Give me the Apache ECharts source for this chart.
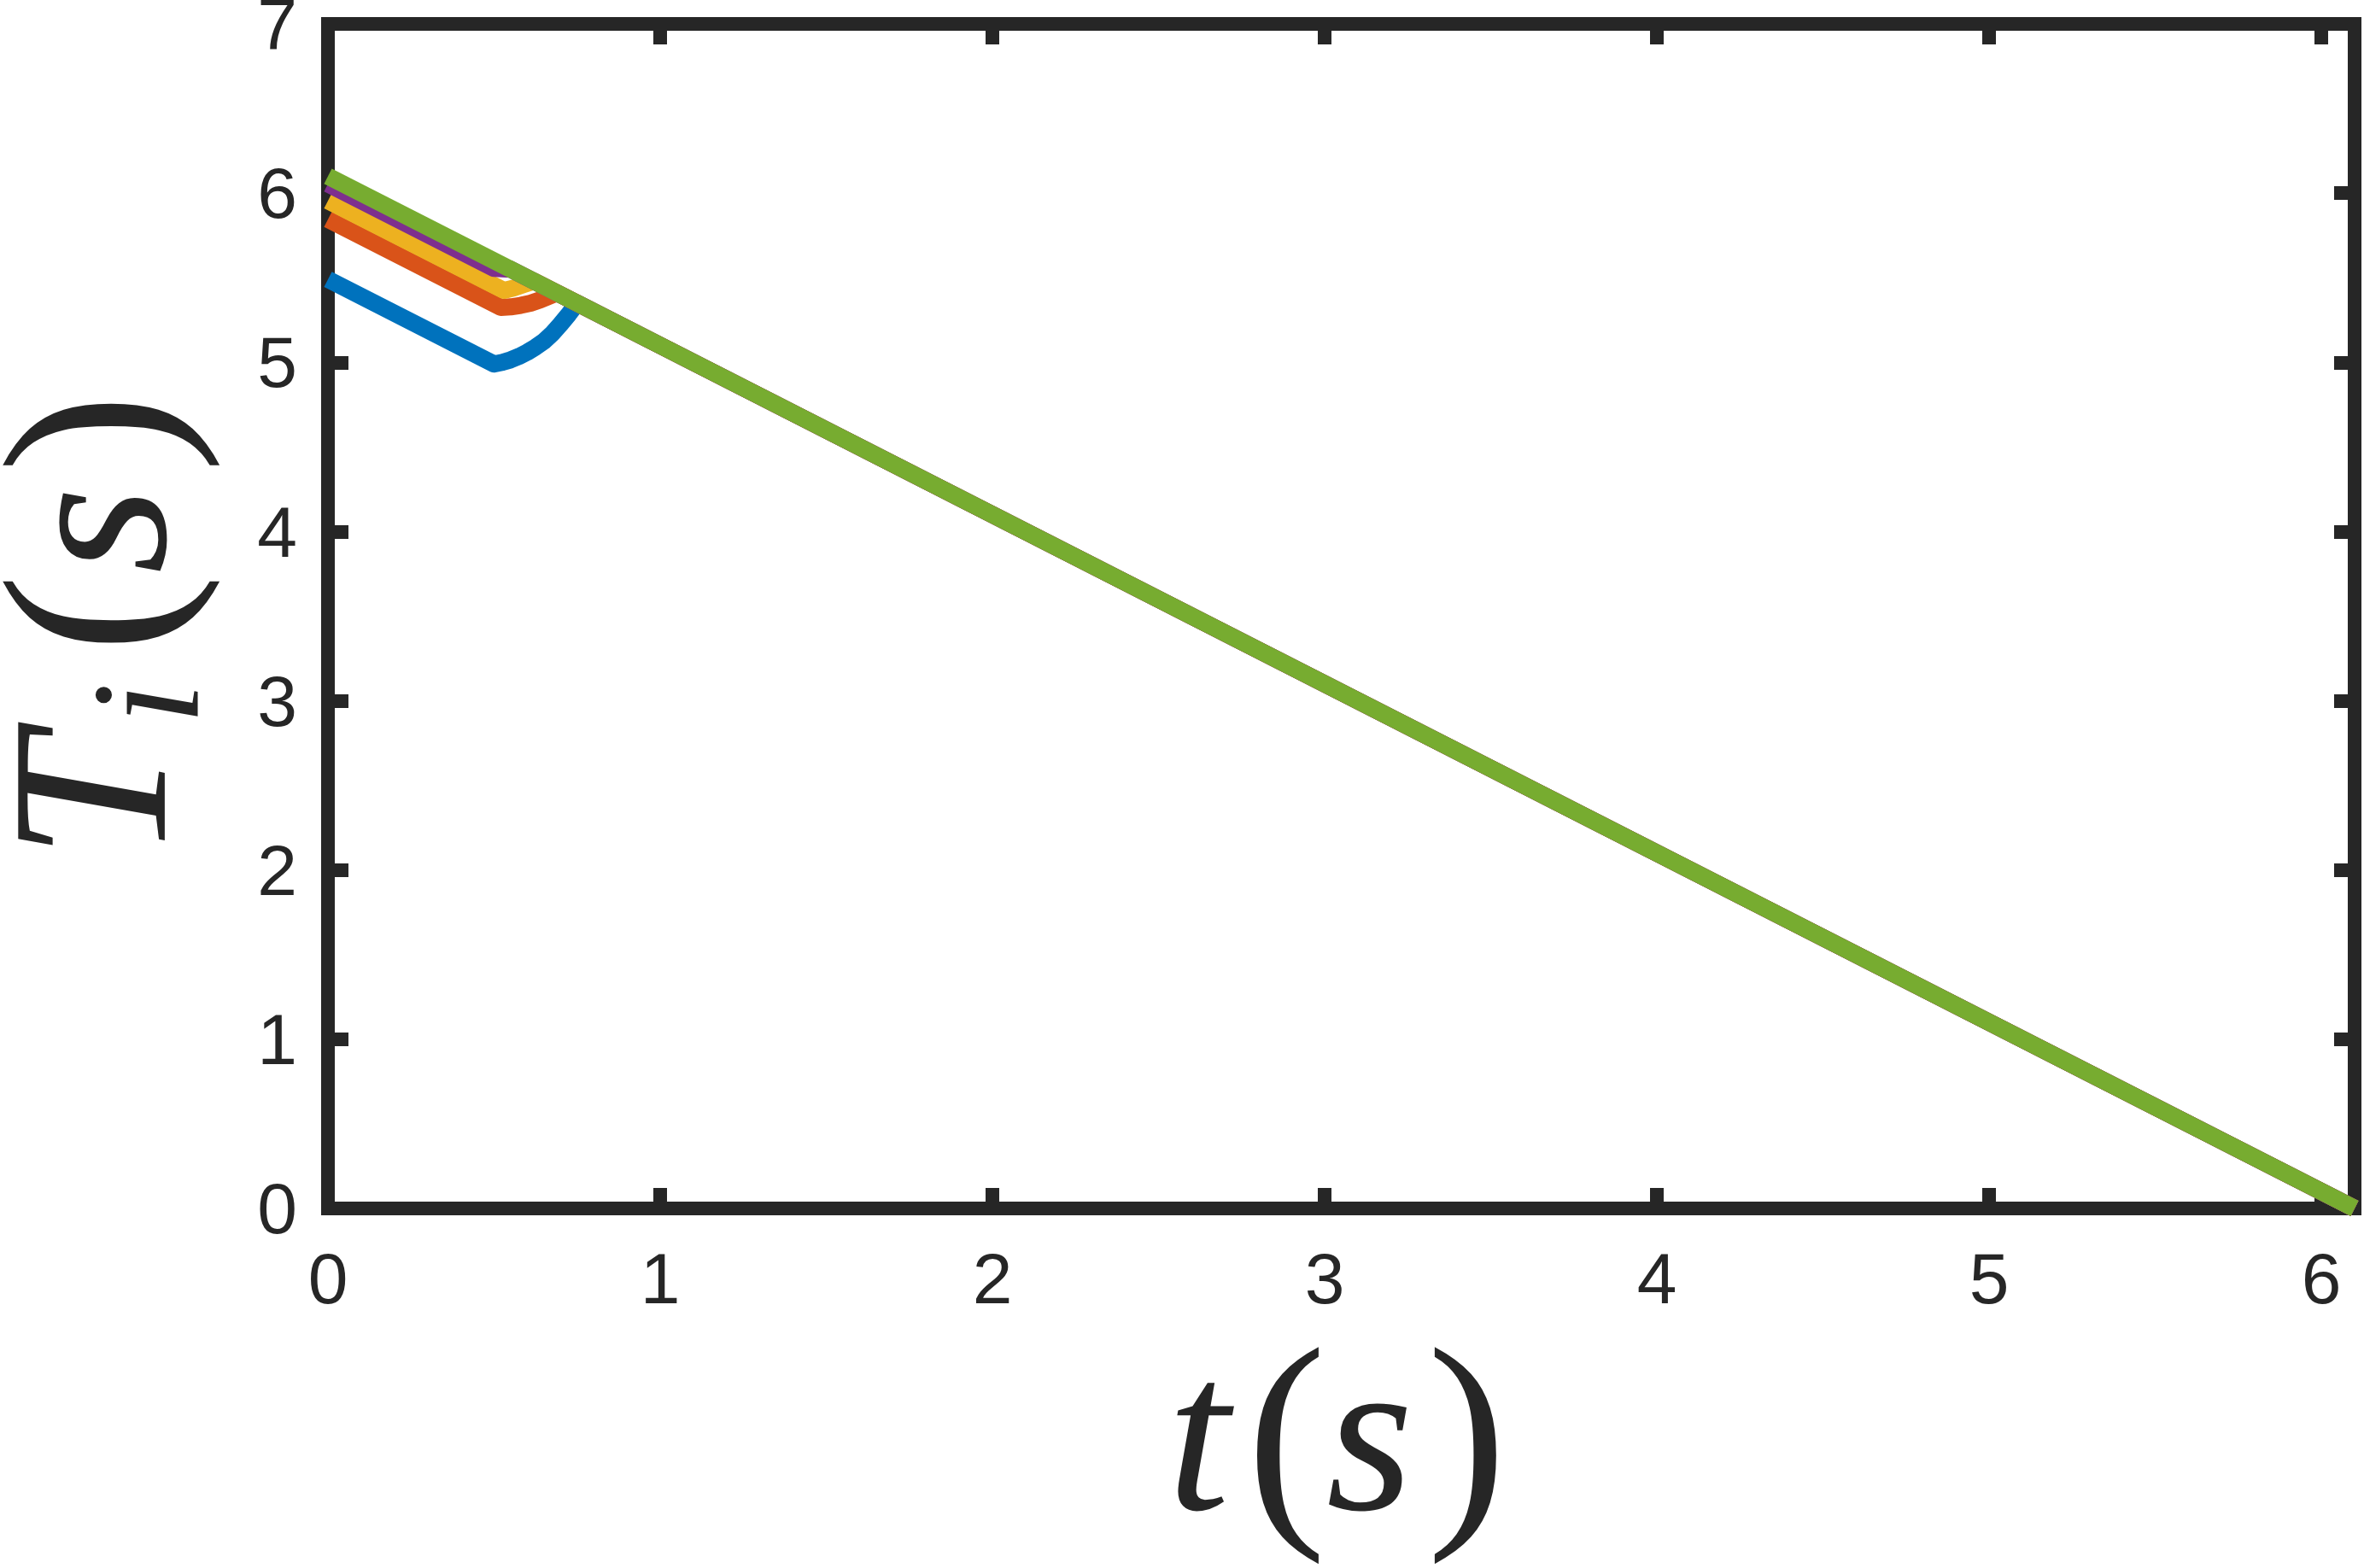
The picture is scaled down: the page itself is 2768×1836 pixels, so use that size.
<!DOCTYPE html>
<html>
<head>
<meta charset="utf-8">
<script src="https://cdn.jsdelivr.net/npm/echarts@6/dist/echarts.min.js"></script>
<style>
  html, body { margin: 0; padding: 0; background: #fff; }
  #chart { width: 2768px; height: 1836px; }
</style>
</head>
<body>
<div id="chart"></div>
<script>
// time (s) and T_i (s), one pair of arrays per line
const tBlue = [0, 0.5, 0.525, 0.55, 0.575, 0.6, 0.625, 0.65, 0.675, 0.7, 0.725, 0.75, 6.1]
const vBlue = [5.49, 4.99, 5.0, 5.015, 5.035, 5.06, 5.09, 5.125, 5.17, 5.225, 5.285, 5.35, 0]

const tOrange = [0, 0.52, 0.55, 0.58, 0.61, 0.64, 0.665, 0.69, 6.1]
const vOrange = [5.845, 5.325, 5.328, 5.337, 5.35, 5.37, 5.39, 5.41, 0]

const tYellow = [0, 0.53, 0.56, 0.59, 0.62, 6.1]
const vYellow = [5.955, 5.425, 5.44, 5.46, 5.48, 0]

const tPurple = [0, 0.5, 0.55, 6.1]
const vPurple = [6.055, 5.555, 5.55, 0]

const tGreen = [0, 6.1]
const vGreen = [6.1, 0]

const colors = ['#0072BD', '#D95319', '#EDB120', '#7E2F8E', '#77AC30']
const axisColor = '#262626'

const zip = (ts, vs) => ts.map((t, i) => [t, vs[i]])

const lines = [
  zip(tBlue, vBlue),
  zip(tOrange, vOrange),
  zip(tYellow, vYellow),
  zip(tPurple, vPurple),
  zip(tGreen, vGreen)
]

const serif = { fontFamily: 'Liberation Serif', lineHeight: 300, color: axisColor }
const mathRich = {
  itT: Object.assign({ fontStyle: 'italic', fontSize: 262, padding: [0, 12, 0, 0] }, serif),
  itt: Object.assign({ fontStyle: 'italic', fontSize: 262, padding: [0, 20, 0, 0] }, serif),
  its: Object.assign({ fontStyle: 'italic', fontSize: 262, padding: [0, 16, 0, 0] }, serif),
  rm: Object.assign({ fontSize: 280 }, serif),
  sub: { fontFamily: 'Liberation Serif', fontStyle: 'italic', fontSize: 180, lineHeight: 175, verticalAlign: 'bottom', color: axisColor, padding: [0, 34, 0, 0] }
}

const boxLine = { show: true, onZero: false, lineStyle: { color: axisColor, width: 16, cap: 'square' } }
const boxTick = { show: true, inside: true, length: 24, lineStyle: { color: axisColor, width: 16 } }
const tickFont = { fontFamily: 'Liberation Sans', fontSize: 84, color: axisColor }

const chart = echarts.init(document.getElementById('chart'))
chart.setOption({
  animation: false,
  backgroundColor: '#fff',
  grid: { left: 384, right: 11, top: 28, bottom: 421, containLabel: false, outerBoundsMode: 'none' },
  xAxis: [
    {
      type: 'value', position: 'bottom', min: 0, max: 6.1, interval: 1,
      axisLine: boxLine, axisTick: boxTick, splitLine: { show: false },
      axisLabel: Object.assign({ margin: 46, showMaxLabel: false }, tickFont),
      name: '{itt|t}{rm|(}{its|s}{rm|)}',
      nameLocation: 'middle', nameGap: 133,
      nameTextStyle: { rich: mathRich, padding: [0, 10, 0, 0] }
    },
    {
      type: 'value', position: 'top', min: 0, max: 6.1, interval: 1,
      axisLine: boxLine, axisTick: boxTick, splitLine: { show: false },
      axisLabel: { show: false }
    }
  ],
  yAxis: [
    {
      type: 'value', position: 'left', min: 0, max: 7, interval: 1,
      axisLine: boxLine, axisTick: boxTick, splitLine: { show: false },
      axisLabel: Object.assign({ margin: 36, verticalAlign: 'top', lineHeight: 12 }, tickFont),
      name: '{itT|T}{sub|i}{rm|(}{its|s}{rm|)}',
      nameLocation: 'middle', nameGap: 110, nameRotate: 90,
      nameTextStyle: { rich: mathRich, padding: [0, 24, 0, 0] }
    },
    {
      type: 'value', position: 'right', min: 0, max: 7, interval: 1,
      axisLine: boxLine, axisTick: boxTick, splitLine: { show: false },
      axisLabel: { show: false }
    }
  ],
  series: lines.map((data, i) => ({
    type: 'line',
    data: data,
    symbol: 'none',
    clip: false,
    lineStyle: { width: 20, color: colors[i], join: 'round', cap: 'butt' }
  }))
})
</script>
</body>
</html>
